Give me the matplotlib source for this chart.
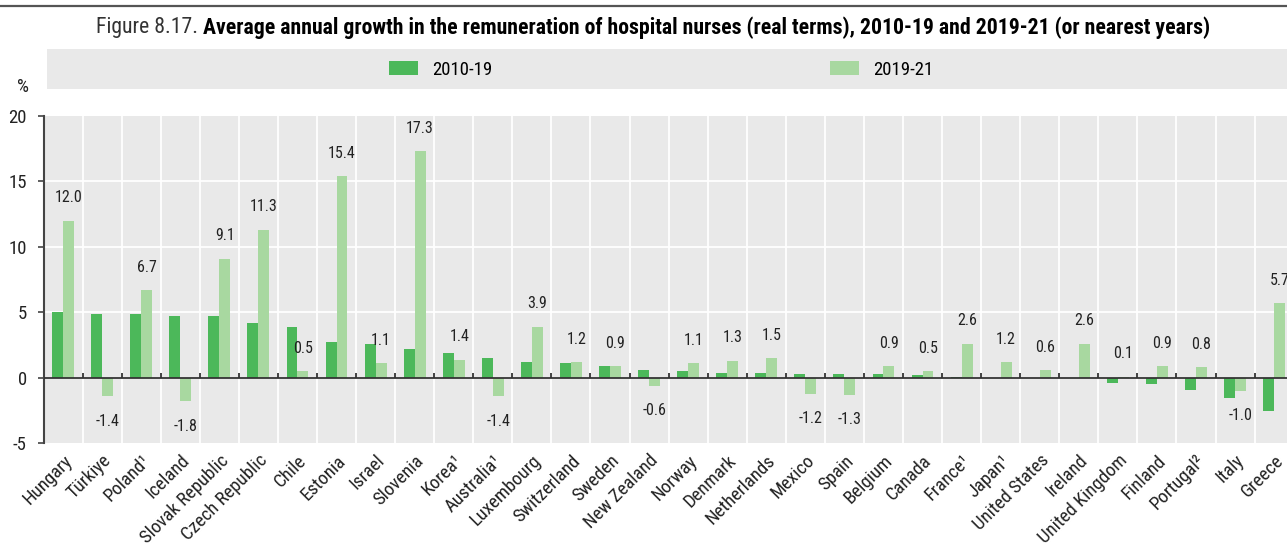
import numpy as np
import matplotlib.pyplot as plt
from matplotlib.patches import Rectangle

plt.rcParams['font.family'] = ['Roboto Condensed', 'Liberation Sans Narrow', 'Liberation Sans', 'DejaVu Sans']
plt.rcParams['axes.unicode_minus'] = False

# data
countries = ["Hungary", "Türkiye", "Poland¹", "Iceland", "Slovak Republic", "Czech Republic",
             "Chile", "Estonia", "Israel", "Slovenia", "Korea¹", "Australia¹", "Luxembourg",
             "Switzerland", "Sweden", "New Zealand", "Norway", "Denmark", "Netherlands",
             "Mexico", "Spain", "Belgium", "Canada", "France¹", "Japan¹", "United States",
             "Ireland", "United Kingdom", "Finland", "Portugal²", "Italy", "Greece"]
g_2010_19 = [5.0, 4.9, 4.9, 4.7, 4.7, 4.2, 3.9, 2.7, 2.6, 2.2, 1.9, 1.5, 1.2, 1.1, 0.9, 0.6,
             0.5, 0.4, 0.4, 0.3, 0.3, 0.3, 0.2, 0.05, 0.0, 0.0, 0.0, -0.4, -0.5, -0.95, -1.55, -2.5]
g_2019_21 = [12.0, -1.4, 6.7, -1.8, 9.1, 11.3, 0.5, 15.4, 1.1, 17.3, 1.4, -1.4, 3.9, 1.2, 0.9, -0.6,
             1.1, 1.3, 1.5, -1.2, -1.3, 0.9, 0.5, 2.6, 1.2, 0.6, 2.6, 0.1, 0.9, 0.8, -1.0, 5.7]
yticks = [-5, 0, 5, 10, 15, 20]

dark = '#4cb85a'
light = '#a8d8a0'
bg = '#e9e9e9'

W, H = 1287, 543
fig = plt.figure(figsize=(W / 100, H / 100), dpi=100)
ax = fig.add_axes([43.5 / W, 1 - 443.3 / H, 1250.2 / W, (443.3 - 116) / H])
ax.set_facecolor(bg)

x = np.arange(len(countries))
width = 0.28
b1 = ax.bar(x - width / 2, g_2010_19, width, color=dark, label='2010-19', zorder=3)
b2 = ax.bar(x + width / 2, g_2019_21, width, color=light, label='2019-21', zorder=3)

# value labels on the 2019-21 bars
for xi, v in zip(x, g_2019_21):
    off = 16.5 if v >= 0 else -18
    ax.annotate(f"{v:.1f}", (xi + width / 2, v), xytext=(0, off), textcoords='offset points',
                ha='center', va='center', fontsize=11.5, color='#222222')

ax.set_xlim(-0.5, len(countries) - 0.5)
ax.set_ylim(-5, 20)
ax.set_yticks(yticks)
ax.tick_params(axis='y', labelsize=13.5, length=4, width=1.2, color='#444444', labelcolor='#222222', pad=8)

# grid: white separators between countries and white horizontal lines
for b in x[:-1] + 0.5:
    ax.axvline(b, color='white', lw=1.3, zorder=1)
for t in yticks[1:-1]:
    ax.axhline(t, color='white', lw=1.3, zorder=1)
ax.axhline(0, color='#333333', lw=1.3, zorder=4)
ax.vlines(x[:-1] + 0.5, 0, 0.35, color='#333333', lw=1.3, zorder=4)

ax.set_xticks(x)
ax.set_xticklabels(countries, rotation=45, ha='right', va='top', rotation_mode='anchor',
                   fontsize=13.5, color='#222222')
ax.tick_params(axis='x', length=0, pad=6)

for s in ['top', 'right', 'bottom']:
    ax.spines[s].set_visible(False)
ax.spines['left'].set_color('#444444')
ax.spines['left'].set_linewidth(1.5)

# header rule, title, legend band
fig.add_artist(plt.Line2D([0, 1], [1 - 6 / H, 1 - 6 / H], color='#555555', lw=1.6))
t1 = fig.text(96 / W, 1 - 28 / H, "Figure 8.17. ", fontsize=15.65, color='#333333', va='center')
fig.canvas.draw()
bb = t1.get_window_extent()
fig.text(bb.x1 / W, 1 - 28 / H,
         "Average annual growth in the remuneration of hospital nurses (real terms), 2010-19 and 2019-21 (or nearest years)",
         fontsize=15.65, fontweight='bold', color='black', va='center')

fig.add_artist(Rectangle((46.7 / W, 1 - 89.3 / H), 1, 40 / H, transform=fig.transFigure,
                         facecolor=bg, edgecolor='none', zorder=0))
fig.legend(handles=[b1, b2], loc='center left', bbox_to_anchor=(389 / W, 1 - 69.5 / H),
           ncol=2, frameon=False, fontsize=13.5, handlelength=1.55, handleheight=0.8,
           handletextpad=0.75, columnspacing=18.0, borderpad=0, borderaxespad=0)

fig.text(23 / W, 1 - 87 / H, "%", fontsize=13.5, ha='center', va='center', color='#222222')

fig.savefig('out.png', dpi=100)
